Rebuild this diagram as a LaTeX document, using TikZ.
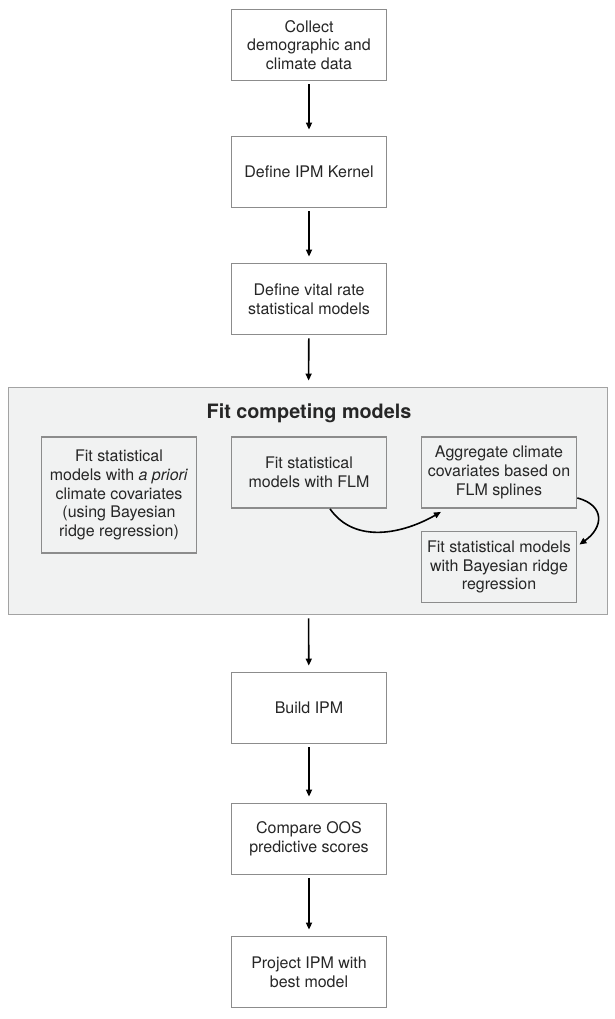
\documentclass[tikz,border=0pt]{standalone}
\usepackage{fontspec}
\setmainfont{TeX Gyre Heros}
\usetikzlibrary{arrows.meta}

\definecolor{boxline}{HTML}{8C8C8C}
\definecolor{panelline}{HTML}{A3A3A3}
\definecolor{panelfill}{HTML}{F1F2F2}
\definecolor{txt}{HTML}{262626}

\begin{document}
\begin{tikzpicture}[x=1pt, y=-1pt,
	stepbox/.style={draw=boxline, line width=1.8pt, fill=white, text=txt, align=center, minimum width=155pt, minimum height=71pt, inner sep=0pt, font=\fontsize{16}{18.8}\selectfont},
	subbox/.style={stepbox, fill=none},
	panel/.style={draw=panelline, line width=1.8pt, fill=panelfill, minimum width=599pt, minimum height=227pt, inner sep=0pt},
	flow/.style={-{Triangle[length=7pt, width=6pt]}, line width=1.6pt, shorten <=3pt, shorten >=6pt},
	curvearrow/.style={-{Triangle[length=7pt, width=6pt]}, line width=1.6pt}]

	\useasboundingbox (0, 0) rectangle (615, 1019);

	\draw (309, 45) node (collect) [stepbox] {Collect\\demographic and\\climate data};
	\draw (309, 172) node (kernel) [stepbox] {Define IPM Kernel};
	\draw (309, 299) node (vital) [stepbox] {Define vital rate\\statistical models};

	% panel with the competing fits
	\draw (308, 501) node (fits) [panel] {};
	\draw (309, 413) node (fitstitle) [text=txt, font=\fontsize{19.8}{22}\selectfont\bfseries] {Fit competing models};

	\draw (119, 495) node (apriori) [subbox, minimum height=116pt] {Fit statistical\\models with \textit{a priori}\\climate covariates\\(using Bayesian\\ridge regression)};
	\draw (309, 472.5) node (flm) [subbox] {Fit statistical\\models with FLM};
	\draw (499, 472.5) node (aggregate) [subbox] {Aggregate climate\\covariates based on\\FLM splines};
	\draw (499, 567) node (ridge) [subbox] {Fit statistical models\\with Bayesian ridge\\regression};

	\draw (309, 708) node (build) [stepbox] {Build IPM};
	\draw (309, 839) node (compare) [stepbox] {Compare OOS\\predictive scores};
	\draw (309, 972) node (project) [stepbox] {Project IPM with\\best model};

	\draw[flow] (collect) -- (kernel);
	\draw[flow] (kernel) -- (vital);
	\draw[flow] (vital) -- (fits);
	\draw[flow] (fits) -- (build);
	\draw[flow] (build) -- (compare);
	\draw[flow] (compare) -- (project);

	\draw[curvearrow] (flm.-60) to[out=-55, in=-150] ([xshift=-2pt, yshift=-3pt]aggregate.-147);
	\draw[curvearrow] (aggregate.-18) to[out=-15, in=35, looseness=1.6] ([xshift=2pt]ridge.16);

\end{tikzpicture}
\end{document}
